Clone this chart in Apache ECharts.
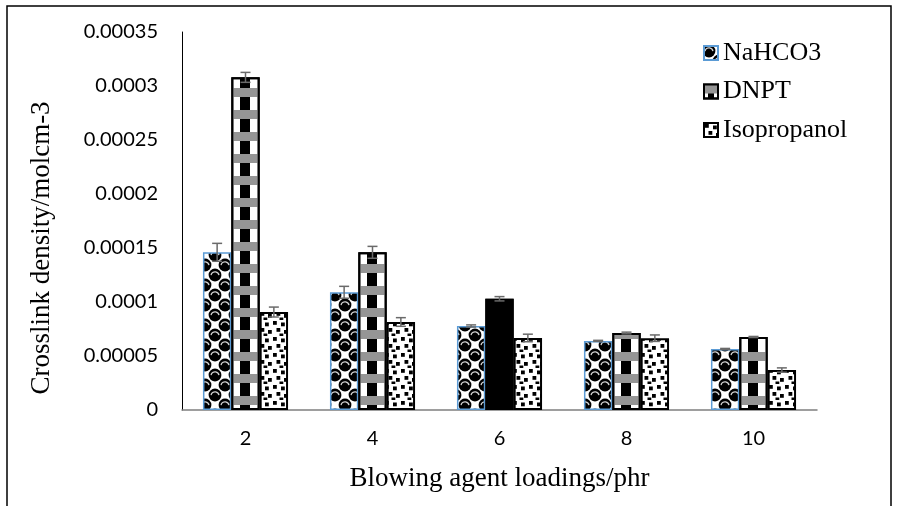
<!DOCTYPE html>
<html>
<head>
<meta charset="utf-8">
<script src="https://cdn.jsdelivr.net/npm/echarts@6/dist/echarts.min.js"></script>
<style>html,body{margin:0;padding:0;background:#fff;}#chart{width:898px;height:506px;}</style>
</head>
<body>
<div id="chart"></div>
<script>
// ---- data ----
const categories = ['2', '4', '6', '8', '10'];
const seriesNames = ['NaHCO3', 'DNPT', 'Isopropanol'];
const naHCO3 = [0.000146, 0.000109, 0.0000778, 0.0000640, 0.0000565];
const dnpt = [0.000308, 0.000146, 0.000103, 0.0000713, 0.0000676];
const isopropanol = [0.0000907, 0.0000815, 0.0000667, 0.0000665, 0.000037];
const errNaHCO3 = [0.0000083, 0.0000055, 0.000001, 0.0000005, 0.0000005];
const errDNPT = [0.0000046, 0.0000055, 0.000002, 0.0000008, 0.0000005];
const errIsopropanol = [0.0000046, 0.000004, 0.0000035, 0.000003, 0.000002];
const yTickLabels = ['0', '0.00005', '0.0001', '0.00015', '0.0002', '0.00025', '0.0003', '0.00035'];
const yTitle = 'Crosslink density/molcm-3';
const xTitle = 'Blowing agent loadings/phr';

// ---- fill patterns ----
function spherePattern() {
  const c = document.createElement('canvas');
  c.width = 20; c.height = 20;
  const g = c.getContext('2d');
  g.fillStyle = '#fff'; g.fillRect(0, 0, 20, 20);
  const centers = [[5, 5], [15, 15]];
  centers.forEach(([cx, cy]) => {
    [-20, 0, 20].forEach(dx => [-20, 0, 20].forEach(dy => {
      g.fillStyle = '#000';
      g.beginPath(); g.arc(cx + dx, cy + dy, 6.4, 0, Math.PI * 2); g.fill();
    }));
  });
  centers.forEach(([cx, cy]) => {
    [-20, 0, 20].forEach(dx => [-20, 0, 20].forEach(dy => {
      g.strokeStyle = '#d0d0d0'; g.lineWidth = 1.3;
      g.beginPath(); g.arc(cx + dx, cy + dy + 0.8, 4, Math.PI * 1.05, Math.PI * 1.95); g.stroke();
    }));
  });
  return { image: c, repeat: 'repeat' };
}
function confettiPattern() {
  const c = document.createElement('canvas');
  c.width = 16; c.height = 16;
  const g = c.getContext('2d');
  g.fillStyle = '#fff'; g.fillRect(0, 0, 16, 16);
  g.fillStyle = '#000';
  [[1, 1], [9, 2.5], [4.5, 8], [12, 10], [7.5, 13.5]].forEach(([x, y]) => g.fillRect(x, y, 3.8, 3.8));
  return { image: c, repeat: 'repeat' };
}
const dnptFill = {
  type: 'linear', x: 0, y: 0, x2: 1, y2: 0,
  colorStops: [
    { offset: 0, color: '#fff' }, { offset: 0.3, color: '#fff' },
    { offset: 0.3, color: '#000' }, { offset: 0.66, color: '#000' },
    { offset: 0.66, color: '#fff' }, { offset: 1, color: '#fff' }
  ]
};
const dnptDecal = { symbol: 'rect', symbolSize: 1, color: '#959595', dashArrayX: [[8, 0]], dashArrayY: [9, 13], rotation: 0 };
const noDecal = { symbol: 'rect', symbolSize: 1, color: 'rgba(0,0,0,0)', dashArrayX: [[8, 0]], dashArrayY: [8, 8], rotation: 0 };

const chart = echarts.init(document.getElementById('chart'), null, { renderer: 'canvas' });

const GAP = 0.33;
function errorSeries(vals, errs, s) {
  return {
    type: 'custom',
    name: 'err' + s,
    z: 5,
    silent: true,
    data: categories.map((c, i) => [i, vals[i], errs[i]]),
    renderItem: function (params, api) {
      const i = api.value(0), v = api.value(1), e = api.value(2);
      const catW = api.size([1, 0])[0];
      const barW = catW * (1 - GAP) / 3;
      const off = (s - 1) * barW;
      const top = api.coord([i, v + e]);
      const bot = api.coord([i, v - e]);
      const x = top[0] + off, hw = 5;
      const st = { stroke: '#6a6a6a', lineWidth: 1.5 };
      return {
        type: 'group', children: [
          { type: 'line', shape: { x1: x, y1: top[1], x2: x, y2: bot[1] }, style: st },
          { type: 'line', shape: { x1: x - hw, y1: top[1], x2: x + hw, y2: top[1] }, style: st },
          { type: 'line', shape: { x1: x - hw, y1: bot[1], x2: x + hw, y2: bot[1] }, style: st }
        ]
      };
    }
  };
}

const option = {
  backgroundColor: '#fff',
  animation: false,
  graphic: [{
    type: 'rect', silent: true, z: -1,
    shape: { x: 7, y: 6, width: 884, height: 530 },
    style: { fill: 'none', stroke: '#000', lineWidth: 1.5 }
  }],
  grid: { left: 182, top: 32, width: 635, bottom: 96 },
  legend: {
    data: seriesNames,
    orient: 'vertical',
    left: 698, top: 35,
    itemWidth: 14, itemHeight: 14, itemGap: 12.5,
    textStyle: { fontFamily: 'Liberation Serif', fontSize: 26, color: '#000', lineHeight: 26 },
    icon: 'rect'
  },
  xAxis: {
    type: 'category',
    data: categories,
    name: xTitle,
    nameLocation: 'middle',
    nameGap: 55,
    nameTextStyle: { fontFamily: 'Liberation Serif', fontSize: 27, color: '#000' },
    axisLine: { lineStyle: { color: '#7f7f7f', width: 1.5 } },
    axisTick: { show: false },
    axisLabel: { fontFamily: 'Lato', fontSize: 20, color: '#000', margin: 19 }
  },
  yAxis: {
    type: 'value',
    min: 0, max: 0.00035, interval: 0.00005,
    name: yTitle,
    nameLocation: 'middle',
    nameGap: 127,
    nameTextStyle: { fontFamily: 'Liberation Serif', fontSize: 27, color: '#000', padding: [0, 54, 0, 0] },
    axisLine: { show: true, lineStyle: { color: '#000', width: 1 } },
    axisTick: { show: false },
    splitLine: { show: false },
    axisLabel: {
      fontFamily: 'Lato', fontSize: 20, color: '#000', margin: 24,
      formatter: (v, idx) => yTickLabels[idx]
    }
  },
  series: [
    {
      type: 'bar', name: seriesNames[0], data: naHCO3,
      barGap: '0%', barCategoryGap: '33%',
      itemStyle: { color: spherePattern(), borderColor: '#5b9bd5', borderWidth: 1.5 }
    },
    {
      type: 'bar', name: seriesNames[1],
      data: dnpt.map((v, i) => i === 2 ? { value: v, itemStyle: { color: '#000', decal: noDecal } } : v),
      barGap: '0%', barCategoryGap: '33%',
      itemStyle: { color: dnptFill, borderColor: '#000', borderWidth: 2, decal: dnptDecal }
    },
    {
      type: 'bar', name: seriesNames[2], data: isopropanol,
      barGap: '0%', barCategoryGap: '33%',
      itemStyle: { color: confettiPattern(), borderColor: '#000', borderWidth: 2 }
    },
    errorSeries(naHCO3, errNaHCO3, 0),
    errorSeries(dnpt, errDNPT, 1),
    errorSeries(isopropanol, errIsopropanol, 2)
  ]
};
chart.setOption(option);
</script>
</body>
</html>
